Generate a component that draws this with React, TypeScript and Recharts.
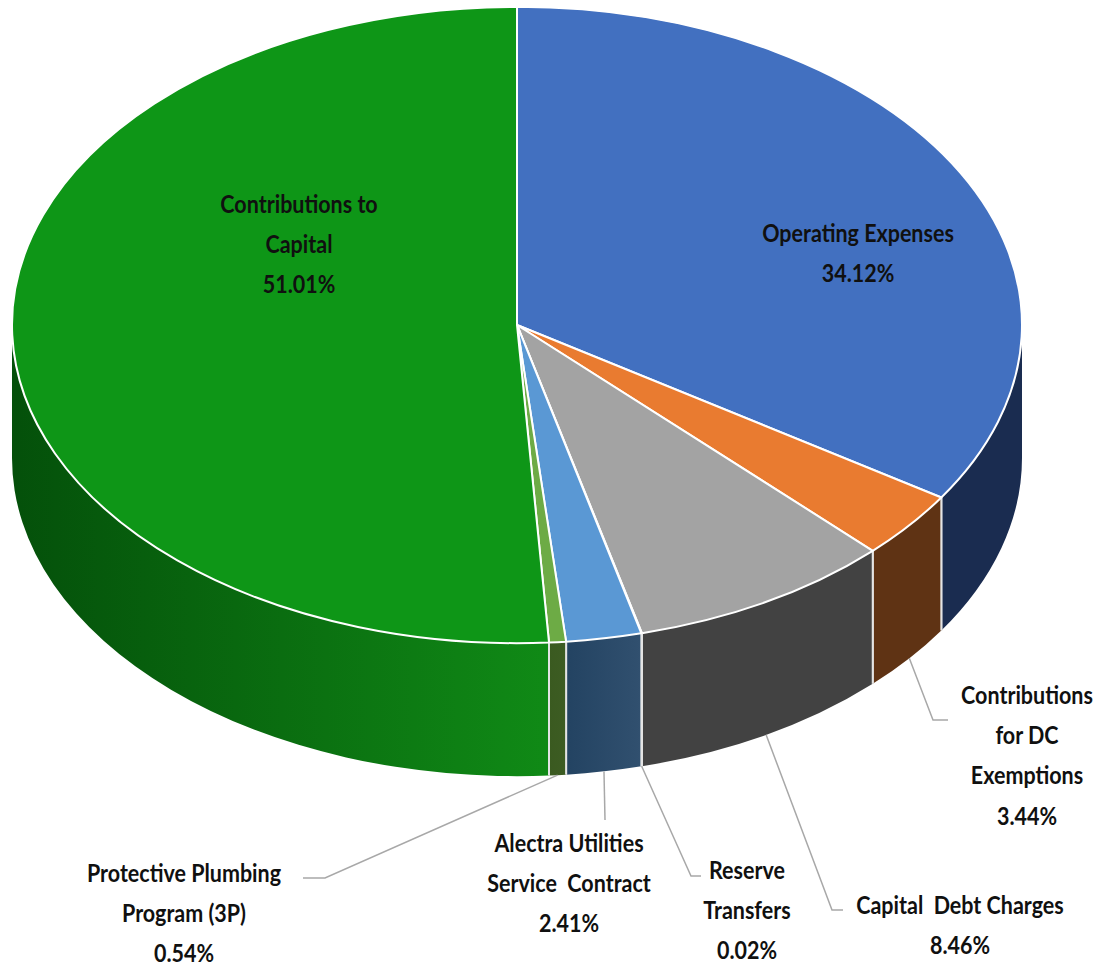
import React from "react";
import { PieChart, Pie } from "recharts";

const categories = [
  "Operating Expenses",
  "Contributions for DC Exemptions",
  "Capital Debt Charges",
  "Reserve Transfers",
  "Alectra Utilities Service Contract",
  "Protective Plumbing Program (3P)",
  "Contributions to Capital",
];
const shares = [34.12, 3.44, 8.46, 0.02, 2.41, 0.54, 51.01];
const percentLabels = ["34.12%", "3.44%", "8.46%", "0.02%", "2.41%", "0.54%", "51.01%"];
const labelLines = [
  ["Operating Expenses"],
  ["Contributions", "for DC", "Exemptions"],
  ["Capital  Debt Charges"],
  ["Reserve", "Transfers"],
  ["Alectra Utilities", "Service  Contract"],
  ["Protective Plumbing", "Program (3P)"],
  ["Contributions to", "Capital"],
];
const topColors = ["#4270C0", "#E97B30", "#A3A3A3", "#F5B800", "#5A98D4", "#6DAB45", "#0E9617"];
const wallStops = [
  ["#1A2C50", "#1A2C50"],
  ["#5F3314", "#5F3314"],
  ["#424242", "#424242"],
  ["#5E4A10", "#5E4A10"],
  ["#31506F", "#234362"],
  ["#3D5C23", "#3A5A20"],
  ["#108A16", "#04500A"],
];

// Annotation layout: label centre x, first-line centre y; leader elbow and end.
const labelLayout = [
  { x: 858, y: 232, elbow: null, end: null },
  { x: 1027, y: 694, elbow: [933, 720], end: [948, 720] },
  { x: 960, y: 904, elbow: [832, 910], end: [843, 910] },
  { x: 747, y: 869, elbow: [691, 876], end: [701, 876] },
  { x: 569, y: 842, elbow: null, end: [605, 820] },
  { x: 184, y: 872, elbow: [325, 878], end: [303, 878] },
  { x: 299, y: 203, elbow: null, end: null },
];
const lineStep = 40.4;

const CX = 517;
const CY = 325;
const RX = 505;
const SQUASH = 0.63;
const DEPTH = 133;

const rad = (d: number) => (d * Math.PI) / 180;
const px = (cx: number, r: number, a: number) => cx + r * Math.cos(rad(a));
const py = (cy: number, r: number, a: number) => cy - r * SQUASH * Math.sin(rad(a));

const tableData = categories.map((name, i) => ({ name, value: shares[i], fill: topColors[i], idx: i }));

function Slice3D(props: any) {
  const { cx, cy, outerRadius: r, startAngle: s, endAngle: e, fill, payload } = props;
  const i = payload?.idx ?? props.idx ?? 0;
  const ry = r * SQUASH;
  const large = Math.abs(s - e) > 180 ? 1 : 0;
  const top = `M${cx},${cy} L${px(cx, r, s)},${py(cy, r, s)} A${r},${ry} 0 ${large} 1 ${px(cx, r, e)},${py(cy, r, e)} Z`;

  const a0 = Math.min(s, 0);
  const a1 = Math.max(e, -180);
  const hasWall = a0 > a1;
  const gid = `wall-${i}`;
  let wall = "";
  if (hasWall) {
    const x0 = px(cx, r, a0), y0 = py(cy, r, a0), x1 = px(cx, r, a1), y1 = py(cy, r, a1);
    wall = `M${x0},${y0} A${r},${ry} 0 0 1 ${x1},${y1} L${x1},${y1 + DEPTH} A${r},${ry} 0 0 0 ${x0},${y0 + DEPTH} Z`;
  }
  const edges = [s, e].filter((a) => a < 0 && a > -180);
  return (
    <g>
      {hasWall && (
        <>
          <defs>
            <linearGradient id={gid} x1="0" y1="0" x2="1" y2="0">
              <stop offset="0%" stopColor={wallStops[i][1]} />
              <stop offset="100%" stopColor={wallStops[i][0]} />
            </linearGradient>
          </defs>
          <path d={wall} fill={`url(#${gid})`} stroke="none" />
          {edges.map((a) => (
            <line
              key={a}
              x1={px(cx, r, a)}
              y1={py(cy, r, a)}
              x2={px(cx, r, a)}
              y2={py(cy, r, a) + DEPTH}
              stroke="#E4E4E4"
              strokeWidth={2}
            />
          ))}
        </>
      )}
      <path d={top} fill={fill} stroke="#FFFFFF" strokeWidth={2} strokeLinejoin="round" />
    </g>
  );
}

function SliceLabel(props: any) {
  const { cx, cy, outerRadius: r, midAngle, index } = props;
  const layout = labelLayout[index];
  const lines = [...labelLines[index], percentLabels[index]];
  let leader = null;
  if (layout.end) {
    const pts = [
      [px(cx, r, midAngle), py(cy, r, midAngle) + DEPTH],
      ...(layout.elbow ? [layout.elbow] : []),
      layout.end,
    ];
    leader = (
      <polyline points={pts.map((p) => p.join(",")).join(" ")} fill="none" stroke="#A8A8A8" strokeWidth={1.5} />
    );
  }
  return (
    <g>
      {leader}
      {lines.map((t, k) => (
        <text
          key={k}
          transform={`translate(${layout.x},${layout.y + k * lineStep}) scale(0.86,1)`}
          textAnchor="middle"
          dominantBaseline="central"
          fontFamily="Lato, sans-serif"
          fontWeight={700}
          fontSize={25}
          fill="#101010"
          style={{ whiteSpace: "pre" }}
        >
          {t}
        </text>
      ))}
    </g>
  );
}

export default function App() {
  return (
    <div style={{ position: "absolute", left: 0, top: 0, width: 1101, height: 963, overflow: "hidden", background: "#fff" }}>
      <PieChart width={1101} height={963} margin={{ top: 0, right: 0, bottom: 0, left: 0 }}>
        <Pie
          data={tableData}
          dataKey="value"
          nameKey="name"
          cx={CX}
          cy={CY}
          innerRadius={0}
          outerRadius={RX}
          startAngle={90}
          endAngle={-270}
          paddingAngle={0}
          isAnimationActive={false}
          shape={Slice3D}
          label={SliceLabel}
          labelLine={false}
        />
      </PieChart>
    </div>
  );
}
